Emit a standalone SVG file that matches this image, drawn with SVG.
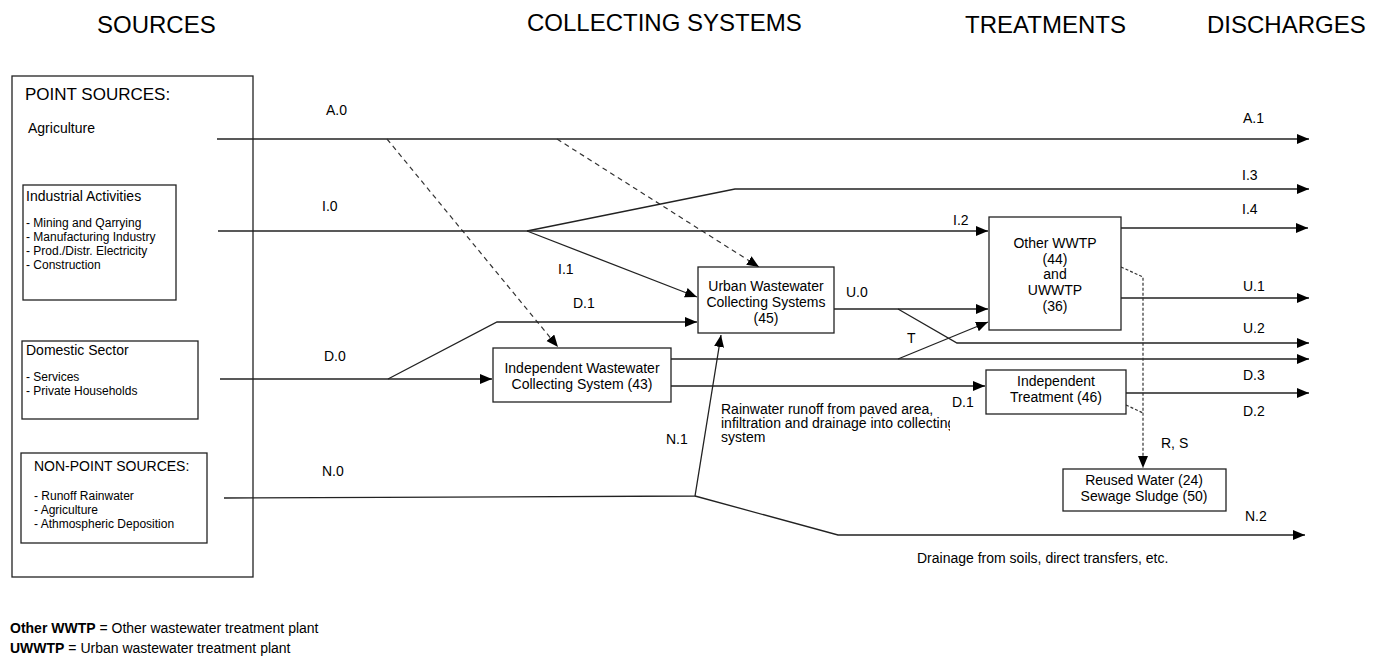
<svg xmlns="http://www.w3.org/2000/svg" width="1378" height="658" viewBox="0 0 1378 658">
<style>
text{font-family:"Liberation Sans",Arial,sans-serif;fill:#000}
.h{font-size:24px}
.t{font-size:14px}
.s{font-size:12px}
.b{font-weight:bold}
.box{fill:#fff;stroke:#222;stroke-width:1.3}
.ln{fill:none;stroke:#222;stroke-width:1.3}
.da{fill:none;stroke:#333;stroke-width:1.2;stroke-dasharray:5,4}
.do{fill:none;stroke:#333;stroke-width:1.2;stroke-dasharray:3,2}
.c{text-anchor:middle}
</style>
<defs>
<marker id="ar" markerUnits="userSpaceOnUse" markerWidth="13" markerHeight="11" refX="12" refY="5" orient="auto">
<path d="M0,0 L12,5 L0,10 z" fill="#000"/>
</marker>
<clipPath id="rc"><rect x="700" y="395" width="250" height="60"/></clipPath>
</defs>

<g id="headers">
<text class="h" x="97" y="33">SOURCES</text>
<text class="h" x="527" y="31">COLLECTING SYSTEMS</text>
<text class="h" x="965" y="33">TREATMENTS</text>
<text class="h" x="1207" y="33">DISCHARGES</text>
</g>

<g id="sources">
<rect class="box" x="12" y="76" width="241" height="501"/>
<text x="25" y="100" style="font-size:17px">POINT SOURCES:</text>
<text class="t" x="28" y="133">Agriculture</text>
</g>

<g id="industrial">
<rect class="box" x="23" y="185" width="153" height="115"/>
<text class="t" x="26" y="201">Industrial Activities</text>
<text class="s" x="26" y="227">- Mining and Qarrying</text>
<text class="s" x="26" y="241">- Manufacturing Industry</text>
<text class="s" x="26" y="255">- Prod./Distr.  Electricity</text>
<text class="s" x="26" y="269">- Construction</text>
</g>

<g id="domestic">
<rect class="box" x="22" y="341" width="176" height="78"/>
<text class="t" x="26" y="355">Domestic Sector</text>
<text class="s" x="26" y="381">- Services</text>
<text class="s" x="26" y="395">- Private Households</text>
</g>

<g id="nonpoint">
<rect class="box" x="21" y="453" width="186" height="90"/>
<text class="t" x="34" y="471">NON-POINT SOURCES:</text>
<text class="s" x="34" y="500">- Runoff Rainwater</text>
<text class="s" x="34" y="514">- Agriculture</text>
<text class="s" x="34" y="528">- Athmospheric Deposition</text>
</g>

<g id="connectors">
<path class="ln" d="M217,139 L1309,139" marker-end="url(#ar)"/>
<path class="da" d="M387,139 L558,347" marker-end="url(#ar)"/>
<path class="da" d="M557,139 L759,267" marker-end="url(#ar)"/>
<path class="ln" d="M218,231 L988,231" marker-end="url(#ar)"/>
<path class="ln" d="M527,231 L735,189 L1309,189" marker-end="url(#ar)"/>
<path class="ln" d="M527,231 L697,297" marker-end="url(#ar)"/>
<path class="ln" d="M1121,228 L1308,228" marker-end="url(#ar)"/>
<path class="ln" d="M220,379 L492,379" marker-end="url(#ar)"/>
<path class="ln" d="M388,379 L497,322 L697,322" marker-end="url(#ar)"/>
<path class="ln" d="M671,359 L1309,359" marker-end="url(#ar)"/>
<path class="ln" d="M671,386 L985,386" marker-end="url(#ar)"/>
<path class="ln" d="M1126,393 L1309,393" marker-end="url(#ar)"/>
<path class="ln" d="M834,309 L988,309" marker-end="url(#ar)"/>
<path class="ln" d="M898,309 L957,343 L1309,343" marker-end="url(#ar)"/>
<path class="ln" d="M898,359 L988,322" marker-end="url(#ar)"/>
<path class="ln" d="M1121,298 L1309,298" marker-end="url(#ar)"/>
<path class="do" d="M1121,267 L1143,277 L1143,468" marker-end="url(#ar)"/>
<path class="do" d="M1126,405 L1143,413"/>
<path class="ln" d="M224,498 L695,496 L721,335" marker-end="url(#ar)"/>
<path class="ln" d="M695,496 L838,535 L1305,535" marker-end="url(#ar)"/>
</g>

<g id="urban">
<rect class="box" x="698" y="267" width="136" height="66"/>
<text class="t c" x="766" y="291">Urban Wastewater</text>
<text class="t c" x="766" y="307">Collecting Systems</text>
<text class="t c" x="766" y="323">(45)</text>
</g>

<g id="independent-collecting">
<rect class="box" x="493" y="348" width="178" height="54"/>
<text class="t c" x="582" y="373">Independent Wastewater</text>
<text class="t c" x="582" y="389">Collecting System (43)</text>
</g>

<g id="other-wwtp">
<rect class="box" x="989" y="217" width="132" height="113"/>
<text class="t c" x="1055" y="248">Other WWTP</text>
<text class="t c" x="1055" y="264">(44)</text>
<text class="t c" x="1055" y="279">and</text>
<text class="t c" x="1055" y="295">UWWTP</text>
<text class="t c" x="1055" y="311">(36)</text>
</g>

<g id="independent-treatment">
<rect class="box" x="986" y="370" width="140" height="44"/>
<text class="t c" x="1056" y="386">Independent</text>
<text class="t c" x="1056" y="402">Treatment (46)</text>
</g>

<g id="reused">
<rect class="box" x="1063" y="469" width="163" height="42"/>
<text class="t c" x="1144" y="485">Reused Water (24)</text>
<text class="t c" x="1144" y="501">Sewage Sludge (50)</text>
</g>

<g id="labels">
<text class="t" x="326" y="115">A.0</text>
<text class="t" x="1243" y="123">A.1</text>
<text class="t" x="322" y="211">I.0</text>
<text class="t" x="558" y="274">I.1</text>
<text class="t" x="953" y="225">I.2</text>
<text class="t" x="1242" y="180">I.3</text>
<text class="t" x="1242" y="214">I.4</text>
<text class="t" x="846" y="297">U.0</text>
<text class="t" x="1243" y="291">U.1</text>
<text class="t" x="1243" y="333">U.2</text>
<text class="t" x="907" y="343">T</text>
<text class="t" x="324" y="361">D.0</text>
<text class="t" x="573" y="308">D.1</text>
<text class="t" x="952" y="407">D.1</text>
<text class="t" x="1243" y="380">D.3</text>
<text class="t" x="1243" y="416">D.2</text>
<text class="t" x="1161" y="448">R, S</text>
<text class="t" x="322" y="476">N.0</text>
<text class="t" x="666" y="444">N.1</text>
<text class="t" x="1245" y="521">N.2</text>
<g clip-path="url(#rc)">
<text class="t" x="721" y="414">Rainwater runoff from paved area,</text>
<text class="t" x="721" y="428">infiltration and drainage into collecting</text>
<text class="t" x="721" y="442">system</text>
</g>
<text class="t" x="917" y="563">Drainage from soils, direct transfers, etc.</text>
</g>

<g id="legend">
<text class="t" x="10" y="633"><tspan class="b">Other WWTP</tspan> = Other wastewater treatment plant</text>
<text class="t" x="10" y="653"><tspan class="b">UWWTP</tspan> = Urban wastewater treatment plant</text>
</g>
</svg>
